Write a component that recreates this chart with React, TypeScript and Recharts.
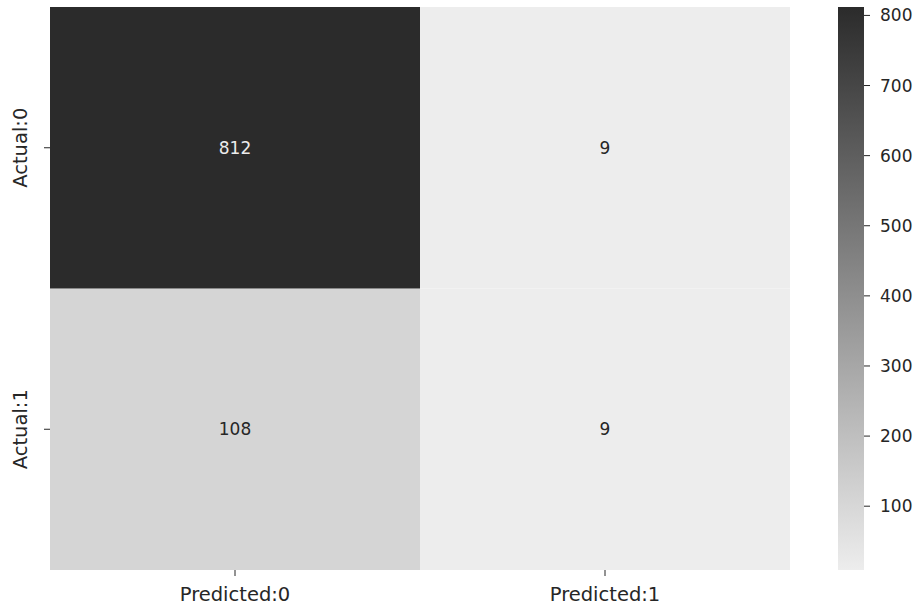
import React from "react";
import { BarChart, Bar, XAxis, YAxis, LabelList } from "recharts";

const predictedLabels = ["Predicted:0", "Predicted:1"];
const actualLabels = ["Actual:0", "Actual:1"];
const actual0Values = [812, 9];
const actual1Values = [108, 9];
const colorbarTicks = [100, 200, 300, 400, 500, 600, 700, 800];
const vMin = 9;
const vMax = 812;

const LIGHT = 237;
const DARK = 43;

const greyFor = (v: number) => {
  const t = Math.max(0, Math.min(1, (v - vMin) / (vMax - vMin)));
  const g = Math.round(LIGHT + (DARK - LIGHT) * t);
  return `rgb(${g},${g},${g})`;
};

const data = predictedLabels.map((p, i) => ({
  pred: p,
  row1: 1,
  row0: 1,
  v1: actual1Values[i],
  v0: actual0Values[i],
}));

const cbData = [{ name: "cb", range: [vMin, vMax] }];

const FONT = "'DejaVu Sans', sans-serif";
const TEXT = "#262626";

const XTick = (props: any) => {
  const { x, y, payload } = props;
  return (
    <g>
      <line x1={x} x2={x} y1={570} y2={576} stroke={TEXT} strokeWidth={1} />
      <text x={x} y={601} textAnchor="middle" fontFamily={FONT} fontSize={19.5} fill={TEXT}>
        {payload.value}
      </text>
    </g>
  );
};

const YTick = (props: any) => {
  const { y, payload } = props;
  const label = payload.value === 1.5 ? actualLabels[0] : actualLabels[1];
  return (
    <g>
      <line x1={44} x2={50} y1={y} y2={y} stroke={TEXT} strokeWidth={1} />
      <text
        x={0}
        y={0}
        transform={`translate(27, ${y}) rotate(-90)`}
        textAnchor="middle"
        fontFamily={FONT}
        fontSize={19.5}
        fill={TEXT}
      >
        {label}
      </text>
    </g>
  );
};

const CbTick = (props: any) => {
  const { y, payload } = props;
  const ax = 64;
  return (
    <g>
      <line x1={ax} x2={ax + 6} y1={y} y2={y} stroke={TEXT} strokeWidth={1} />
      <text x={ax + 16} y={y + 6} textAnchor="start" fontFamily={FONT} fontSize={17} fill={TEXT}>
        {payload.value}
      </text>
    </g>
  );
};

const makeCellLabel = (key: "v0" | "v1") => (props: any) => {
  const { x, y, width, height, index } = props;
  const v = data[index][key];
  const dark = (v - vMin) / (vMax - vMin) > 0.5;
  return (
    <text
      x={x + width / 2}
      y={y + height / 2 + 6}
      textAnchor="middle"
      fontFamily={FONT}
      fontSize={17}
      fill={dark ? "#ececec" : TEXT}
    >
      {v}
    </text>
  );
};

export default function App() {
  return (
    <div style={{ position: "absolute", left: 0, top: 0, width: 919, height: 606, background: "#fff", overflow: "hidden" }}>
      <svg width={0} height={0} style={{ position: "absolute" }}>
        <defs>
          <linearGradient id="cbGrad" x1="0" y1="0" x2="0" y2="1">
            <stop offset="0%" stopColor={greyFor(vMax)} />
            <stop offset="100%" stopColor={greyFor(vMin)} />
          </linearGradient>
        </defs>
      </svg>
      <div style={{ position: "absolute", left: 0, top: 0 }}>
        <BarChart
          width={800}
          height={606}
          data={data}
          margin={{ top: 7, right: 10, left: 0, bottom: 6 }}
          barCategoryGap={0}
          barGap={0}
        >
          <XAxis dataKey="pred" height={30} axisLine={false} tickLine={false} tick={<XTick />} interval={0} />
          <YAxis
            type="number"
            domain={[0, 2]}
            ticks={[0.5, 1.5]}
            width={50}
            axisLine={false}
            tickLine={false}
            tick={<YTick />}
            interval={0}
          />
          <Bar dataKey="row1" stackId="a" isAnimationActive={false} shape={(p: any) => (
            <rect x={p.x} y={p.y} width={p.width} height={p.height} fill={greyFor(data[p.index].v1)} />
          )}>
            <LabelList dataKey="v1" content={makeCellLabel("v1")} />
          </Bar>
          <Bar dataKey="row0" stackId="a" isAnimationActive={false} shape={(p: any) => (
            <rect x={p.x} y={p.y} width={p.width} height={p.height} fill={greyFor(data[p.index].v0)} />
          )}>
            <LabelList dataKey="v0" content={makeCellLabel("v0")} />
          </Bar>
        </BarChart>
      </div>
      <div style={{ position: "absolute", left: 800, top: 0 }}>
        <BarChart
          width={119}
          height={606}
          data={cbData}
          margin={{ top: 7, right: 0, left: 38, bottom: 36 }}
          barCategoryGap={0}
        >
          <XAxis dataKey="name" hide />
          <YAxis
            orientation="right"
            type="number"
            domain={[vMin, vMax]}
            ticks={colorbarTicks}
            width={55}
            axisLine={false}
            tickLine={false}
            tickSize={0}
            tickMargin={0}
            tick={<CbTick />}
            interval={0}
            allowDataOverflow
          />
          <Bar dataKey="range" fill="url(#cbGrad)" isAnimationActive={false} />
        </BarChart>
      </div>
    </div>
  );
}
